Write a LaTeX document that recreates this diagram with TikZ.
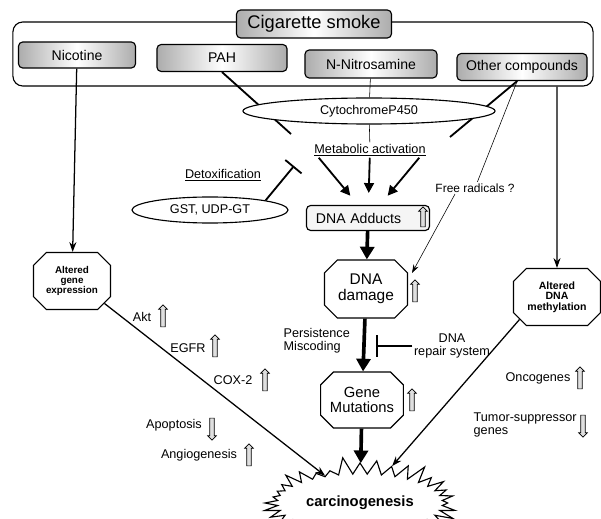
\documentclass[tikz,border=0pt]{standalone}
\usepackage{fontspec}
\setmainfont{Liberation Sans}
\usetikzlibrary{positioning, shapes, shapes.misc, shapes.symbols, shapes.arrows, arrows.meta}
\newcommand{\fsz}[1]{\fontsize{#1}{#1}\selectfont}

\begin{document}
\begin{tikzpicture}[
    x=0.025cm, y=-0.025cm,
    frame/.style={draw, thick, rounded corners=7pt},
    agent/.style={draw, thick, rounded corners=3pt, left color=gray!65, right color=gray!65, middle color=white, font=\fsz{10}, inner sep=1pt},
    enzyme/.style={ellipse, draw, thick, fill=white, font=\fsz{9}, inner sep=0pt},
    lesion/.style={chamfered rectangle, chamfered rectangle xsep=0.2cm, draw, thick, fill=white, align=center, inner sep=1pt},
    note/.style={font=\fsz{9}, inner sep=1pt},
    trend/.style={single arrow, draw, fill=gray!25, minimum height=0.55cm, minimum width=0.22cm, single arrow head extend=0.04cm, inner sep=1pt},
    rise/.style={trend, rotate=90},
    fall/.style={trend, rotate=-90},
    link/.style={line width=1.3pt},
    flow/.style={-{Triangle[length=7pt, width=7pt]}, line width=1.3pt},
    mainflow/.style={-{Triangle[length=9pt, width=10pt]}, line width=2.6pt},
    route/.style={-{Stealth[length=7pt, width=5pt]}, line width=0.9pt},
    hint/.style={-{Stealth[length=6pt, width=4pt]}, thin},
    inhibit/.style={-{Bar[width=15pt]}, line width=1.3pt}
]
\useasboundingbox (0,0) rectangle (601,519);

% Smoke and its components
\node[frame, minimum width=14.5cm, minimum height=1.6cm] (smokeframe) at (303,54) {};
\node[agent, font=\fsz{13}, minimum width=3.875cm, minimum height=0.7cm] (smoke) at (314,24) {Cigarette smoke};
\node[agent, minimum width=2.925cm, minimum height=0.65cm] (nicotine) at (77,55) {Nicotine};
\node[agent, minimum width=3.25cm, minimum height=0.675cm] (pah) at (222,58) {PAH};
\node[agent, minimum width=3.3cm, minimum height=0.7cm] (nitro) at (371,64) {N-Nitrosamine};
\node[agent, minimum width=3.25cm, minimum height=0.675cm] (other) at (522,67) {Other compounds};

% Lines passing behind the P450 ellipse
\coordinate (pahend) at (291,134);
\coordinate (otherend) at (450,137);
\draw[link] (pah.south) -- (pahend);
\draw[link] ([xshift=-0.12cm]other.south) -- (otherend);

% Metabolism
\node[enzyme, minimum width=6.3cm, minimum height=0.65cm] (cyp) at (369,111) {CytochromeP450};
\node[note] (metab) at (370,150) {\underline{Metabolic activation}};
\node[note] (detox) at (223,175) {\underline{Detoxification}};
\node[enzyme, minimum width=3.9cm, minimum height=0.65cm] (gst) at (210,210) {GST, UDP-GT};
\node[note, font=\fsz{8.5}] (radicals) at (475,188) {Free radicals ?};
\coordinate (detoxbar) at (294,166);
\coordinate (radtip) at (412,273);

% DNA lesions
\node[draw, thick, rounded corners=3pt, fill=gray!8, font=\fsz{10}, minimum width=3.075cm, minimum height=0.625cm, text width=2.6cm, inner sep=1pt] (adducts) at (368,218) {DNA Adducts};
\node[lesion, font=\fsz{11}, minimum width=2.075cm, minimum height=1.45cm] (damage) at (366,289) {DNA\\damage};
\node[lesion, font=\fsz{10.5}, minimum width=1.975cm, minimum height=1.4cm] (mutation) at (362,400) {Gene\\Mutations};
\node[starburst, starburst points=36, starburst point height=0.45cm, random starburst=5, draw, thick, fill=white, font=\bfseries\fsz{10.5}, minimum width=4.45cm, minimum height=2.35cm] (carc) at (360,503) {carcinogenesis};
\node[note, align=left, anchor=west] (persist) at (282,341) {Persistence\\Miscoding};
\node[note, align=center] (repair) at (452,346) {DNA\\repair system};

% Side pathways
\node[lesion, font=\bfseries\fsz{7}, minimum width=1.925cm, minimum height=1.425cm] (geneexp) at (72,281) {Altered\\gene\\expression};
\node[lesion, font=\bfseries\fsz{7.5}, minimum width=2.175cm, minimum height=1.425cm] (methyl) at (557,297) {Altered\\DNA\\methylation};
\node[note] (akt) at (142,317) {Akt};
\node[note] (egfr) at (188,348) {EGFR};
\node[note] (cox) at (233,380) {COX-2};
\node[note] (apop) at (174,425) {Apoptosis};
\node[note] (angio) at (199,455) {Angiogenesis};
\node[note] (onco) at (538,378) {Oncogenes};
\node[note, align=left, anchor=west] (tsg) at (472,425) {Tumor-suppressor\\genes};

% Up and down marks
\node[rise] (aktup) at (163,317) {};
\node[rise] (egfrup) at (215,347) {};
\node[rise] (coxup) at (265,381) {};
\node[fall] (apopdown) at (212,428) {};
\node[rise] (angioup) at (249,456) {};
\node[rise, minimum height=0.5cm] (adductsup) at (423,218) {};
\node[rise] (damageup) at (415,292) {};
\node[rise] (mutationup) at (412,401) {};
\node[rise] (oncoup) at (580,379) {};
\node[fall] (tsgdown) at (583,425) {};

% Edges and annotations
\draw[route] (nicotine) -- (geneexp);
\draw[route] (smokeframe.south -| methyl) -- (methyl);
\draw (nitro) -- (cyp);
\draw (cyp) -- (metab);
\draw[thin] ([xshift=-0.12cm]other.south) -- (radicals);
\draw[hint] ([xshift=-0.5cm]radicals.south) -- (radtip);
\draw[flow, shorten >=0.3cm] ([xshift=0.15cm]metab.south west) -- ([xshift=-0.25cm]adducts.north);
\draw[flow, shorten >=0.3cm] (metab) -- (adducts);
\draw[flow, shorten >=0.3cm] ([xshift=-0.2cm]metab.south east) -- ([xshift=0.3cm]adducts.north);
\draw[inhibit] (gst.north east) -- (detoxbar);
\draw[mainflow] (adducts) -- (damage);
\draw[mainflow] (damage) -- (mutation);
\draw[inhibit, shorten >=0.25cm] (repair.west) -- (repair.west -| damage.south);
\draw[mainflow] (mutation) -- (carc);
\draw[route] (geneexp.south east) -- (carc);
\draw[route] (methyl.south west) -- (carc);

\end{tikzpicture}
\end{document}
